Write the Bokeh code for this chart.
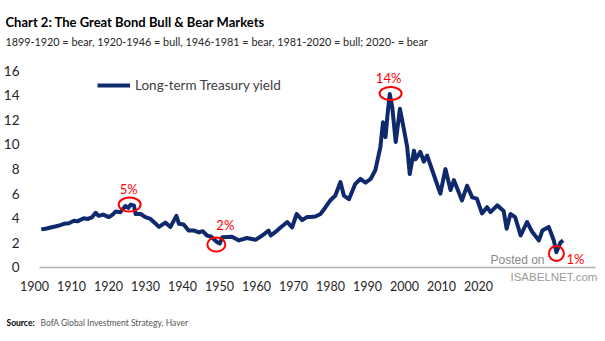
from bokeh.plotting import figure
from bokeh.models import (Range1d, FixedTicker, Label, Legend, LegendItem,
                          ColumnDataSource, BoxAnnotation)
from bokeh.core.properties import value
from bokeh.embed import file_html
from bokeh.resources import INLINE

# ---- data ----
years = [1899.0, 1900.0, 1901.2, 1902.5, 1903.5, 1904.3, 1905.5, 1906.7, 1907.5, 1909.0,
         1910.0, 1911.0, 1911.8, 1912.5, 1913.6, 1914.9, 1915.8, 1916.5, 1917.6, 1918.8,
         1919.5, 1920.0, 1920.8, 1921.2, 1922.4, 1923.5, 1924.7, 1925.8, 1926.7, 1928.2,
         1929.4, 1930.8, 1931.4, 1932.5, 1933.7, 1935.0, 1936.1, 1937.0, 1938.0, 1939.0,
         1940.4, 1941.0, 1941.6, 1943.9, 1945.5, 1947.4, 1949.4, 1951.0, 1952.5, 1953.0,
         1954.5, 1955.3, 1956.9, 1958.0, 1959.1, 1960.4, 1961.5, 1962.4, 1963.5, 1964.7,
         1965.9, 1967.0, 1968.2, 1969.4, 1970.2, 1971.4, 1972.9, 1974.1, 1975.3, 1976.5,
         1977.6, 1978.8, 1979.4, 1980.0, 1980.5, 1981.0, 1981.6, 1982.4, 1983.4, 1984.3,
         1985.1, 1985.7, 1986.7, 1987.1, 1988.2, 1989.0, 1989.8, 1991.3, 1992.9, 1994.1,
         1995.3, 1996.1, 1998.0, 1999.2, 2000.4, 2001.5, 2002.7, 2003.9, 2004.7, 2006.3,
         2007.8, 2008.5, 2009.4, 2010.5, 2011.8, 2013.3, 2014.5, 2016.1, 2016.9, 2018.4,
         2019.6, 2020.2, 2021.2, 2021.8]
yields = [3.10, 3.15, 3.25, 3.35, 3.45, 3.55, 3.60, 3.80, 3.75, 4.00,
          3.95, 4.10, 4.45, 4.20, 4.30, 4.10, 4.30, 4.55, 4.50, 5.00,
          4.85, 5.10, 5.05, 4.35, 4.35, 4.10, 3.95, 3.60, 3.30, 3.65,
          3.30, 4.20, 3.55, 3.50, 3.00, 3.00, 2.85, 2.95, 2.60, 2.50,
          2.05, 1.95, 2.45, 2.50, 2.20, 2.40, 2.25, 2.60, 3.00, 2.60,
          3.00, 3.25, 3.70, 3.25, 4.35, 3.85, 4.10, 4.10, 4.15, 4.35,
          4.90, 5.45, 5.85, 6.95, 5.85, 5.55, 6.80, 7.20, 6.90, 7.20,
          7.90, 9.80, 11.8, 10.6, 12.5, 14.1, 13.0, 10.2, 12.9, 11.3,
          9.80, 7.60, 9.50, 8.80, 9.40, 8.60, 9.10, 7.60, 6.00, 8.00,
          6.30, 7.10, 5.45, 6.65, 5.70, 5.60, 4.40, 4.90, 4.50, 5.05,
          4.60, 3.15, 4.35, 4.10, 2.60, 3.70, 2.90, 2.20, 3.00, 3.30,
          2.20, 1.25, 2.05, 2.20]

x_tick_labels = [1900, 1910, 1920, 1930, 1940, 1950, 1960, 1970, 1980, 1990, 2000, 2010, 2020]
y_ticks = [0, 2, 4, 6, 8, 10, 12, 14, 16]

ann_years = [1919.8, 1940.2, 1981.2, 2020.2]
ann_vals = [5.12, 1.87, 14.15, 1.14]
ann_labels = ["5%", "2%", "14%", "1%"]

title_text = "Chart 2: The Great Bond Bull & Bear Markets"
subtitle_text = "1899-1920 = bear, 1920-1946 = bull, 1946-1981 = bear, 1981-2020 = bull; 2020- = bear"
series_name = "Long-term Treasury yield"
source_label = "Source:"
source_text = "BofA Global Investment Strategy, Haver"
watermark_1 = "Posted on"
watermark_2 = "ISABELNET.com"

# ---- style ----
FONT = "Lato"
NAVY = "#0f2a6c"
RED = "#ff0000"

# frame spans canvas x 5..597, y 0..330 ; value 0 sits at canvas y 267
p = figure(width=605, height=341, output_backend="svg", toolbar_location=None,
           x_range=Range1d(1892.16, 2052.16), y_range=Range1d(-5.122, 21.707),
           min_border_left=5, min_border_right=8, min_border_top=0, min_border_bottom=11)
p.outline_line_color = None
p.xgrid.visible = False
p.ygrid.visible = False
p.background_fill_color = "white"
p.border_fill_color = "white"

p.extra_x_ranges = {"data": Range1d(1890.59, 2029.88)}

# axes
p.xaxis.ticker = FixedTicker(ticks=x_tick_labels)
p.xaxis.axis_line_color = None
p.xaxis.major_tick_line_color = None
p.xaxis.minor_tick_line_color = None
p.xaxis.major_label_text_font = FONT
p.xaxis.major_label_text_font_size = "12.5px"
p.xaxis.major_label_text_color = "#262626"
p.xaxis.major_label_standoff = -56

p.yaxis.ticker = FixedTicker(ticks=y_ticks)
p.yaxis.axis_line_color = None
p.yaxis.major_tick_line_color = None
p.yaxis.minor_tick_line_color = None
p.yaxis.major_label_text_font = FONT
p.yaxis.major_label_text_font_size = "13.5px"
p.yaxis.major_label_text_color = "#262626"
p.yaxis.major_label_standoff = -20

# baseline (x axis line) at value 0
p.add_layout(BoxAnnotation(left=1901.35, right=2051.6, bottom=0, top=0,
                           fill_alpha=0, line_color="#000000", line_width=1.6))

src = ColumnDataSource(dict(x=years, y=yields))
r = p.line("x", "y", source=src, x_range_name="data", line_color=NAVY, line_width=4,
           line_join="round")

legend = Legend(items=[LegendItem(label=series_name, renderers=[r])],
                location=(92, 235), border_line_color=None, background_fill_alpha=0,
                padding=0, margin=0, glyph_width=33, label_standoff=5,
                label_text_font=FONT, label_text_font_size="13.5px", label_text_color="#404040")
p.add_layout(legend, "center")

# annotations
ann_src = ColumnDataSource(dict(x=ann_years, y=ann_vals, t=ann_labels,
                                w=[22, 18, 22, 15], h=[14, 14, 13, 15],
                                dx=[-1, 9, -2, 19], dy=[-16, -19, -15, 6]))
p.ellipse(x="x", y="y", width="w", height="h", width_units="screen", height_units="screen",
          source=ann_src, x_range_name="data", fill_color=None, line_color=RED, line_width=2)
p.text(x="x", y="y", text="t", x_offset="dx", y_offset="dy", source=ann_src, x_range_name="data",
       text_align="center", text_baseline="middle", text_color=RED,
       text_font=value(FONT), text_font_size="13px")

# texts (screen units relative to the frame's bottom-left corner at canvas (5, 330))
p.add_layout(Label(x=0, y=309, x_units="screen", y_units="screen", text=title_text,
                   text_font=FONT, text_font_style="bold", text_font_size="13px",
                   text_color="#000000", text_baseline="middle"))
p.add_layout(Label(x=0, y=289, x_units="screen", y_units="screen", text=subtitle_text,
                   text_font=FONT, text_font_size="10.8px", text_color="#262626",
                   text_baseline="middle"))
p.add_layout(Label(x=1, y=8, x_units="screen", y_units="screen", text=source_label,
                   text_font=FONT, text_font_style="bold", text_font_size="8.5px",
                   text_color="#000000", text_baseline="middle"))
p.add_layout(Label(x=35, y=8, x_units="screen", y_units="screen", text=source_text,
                   text_font=FONT, text_font_size="8.5px", text_color="#555555",
                   text_baseline="middle"))
# watermark
p.add_layout(Label(x=485, y=71, x_units="screen", y_units="screen", text=watermark_1,
                   text_font="Liberation Sans", text_font_size="12px", text_color="#8a8a8a",
                   text_baseline="middle"))
p.add_layout(Label(x=505, y=54, x_units="screen", y_units="screen", text=watermark_2,
                   text_font="Liberation Sans", text_font_size="11.5px", text_color="#9a9a9a",
                   text_baseline="middle"))

open("out.html", "w").write(file_html(p, INLINE))
